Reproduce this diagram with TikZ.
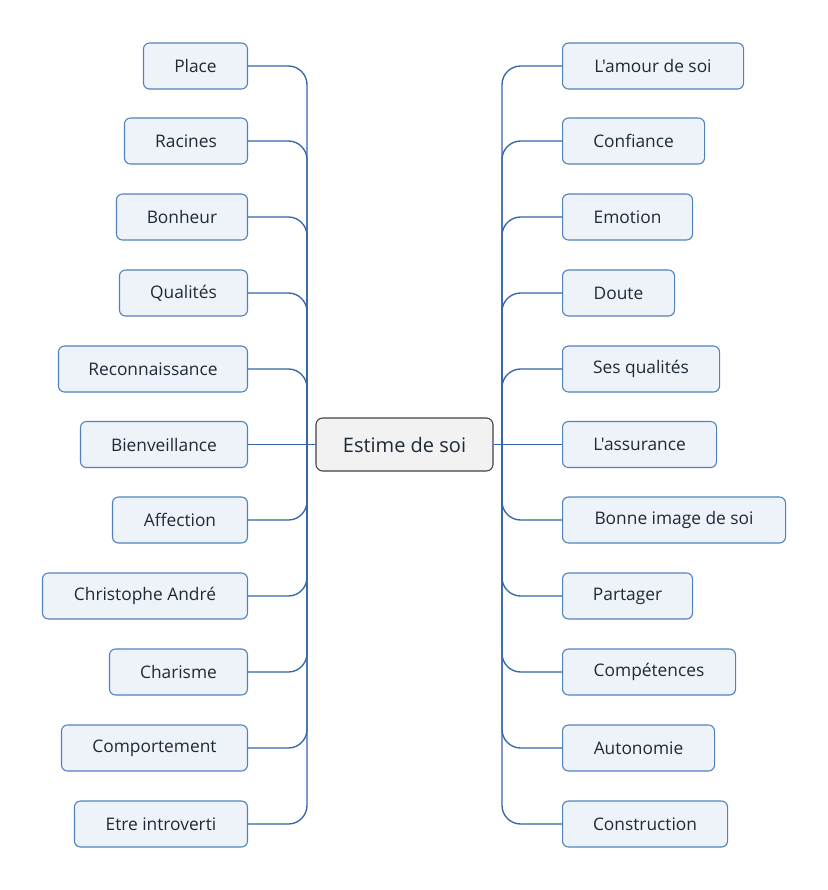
\documentclass[tikz,border=0pt]{standalone}
\usepackage{fontspec}
\setmainfont{Open Sans}[Ligatures=TeXOff]
\definecolor{boxfill}{HTML}{EEF3FA}
\definecolor{boxline}{HTML}{4F81BD}
\definecolor{connline}{HTML}{3466A8}
\definecolor{txt}{HTML}{1F2A36}
\definecolor{cfill}{HTML}{F2F2F2}
\definecolor{cline}{HTML}{404040}
\begin{document}
\begin{tikzpicture}[x=0.75pt,y=-0.75pt,
  box/.style={draw=boxline,fill=boxfill,line width=0.8pt,rounded corners=4.5pt,
    minimum height=34.5pt,inner sep=0pt,text=txt,font=\fontsize{13}{15}\selectfont},
  wd/.style={minimum width=#1*0.75pt},
  lbox/.style={box,anchor=east},
  rbox/.style={box,anchor=west},
  conn/.style={draw=connline,line width=1pt,rounded corners=14pt},
  center/.style={draw=cline,fill=cfill,line width=0.8pt,rounded corners=5pt,
    minimum width=177*0.75pt,minimum height=53*0.75pt,text=txt,
    font=\fontsize{15}{18}\selectfont}]
\useasboundingbox (0,0) rectangle (828,890);
\node[center] (c) at (404.5,444.5) {Estime de soi};
% left
\node[lbox,wd=104] (l1) at (248,66) {Place};
\node[lbox,wd=123] (l2) at (248,141) {Racines};
\node[lbox,wd=131] (l3) at (248,217) {Bonheur};
\node[lbox,wd=128] (l4) at (248,293) {Qualités};
\node[lbox,wd=189] (l5) at (248,369) {Reconnaissance};
\node[lbox,wd=167] (l6) at (248,444.5) {Bienveillance};
\node[lbox,wd=135] (l7) at (248,520) {Affection};
\node[lbox,wd=205] (l8) at (248,596) {Christophe André};
\node[lbox,wd=138] (l9) at (248,672) {Charisme};
\node[lbox,wd=186] (l10) at (248,748) {Comportement};
\node[lbox,wd=173] (l11) at (248,824) {Etre introverti};
% right
\node[rbox,wd=181] (r1) at (562,66) {L'amour de soi};
\node[rbox,wd=142] (r2) at (562,141) {Confiance};
\node[rbox,wd=130] (r3) at (562,217) {Emotion};
\node[rbox,wd=112] (r4) at (562,293) {Doute};
\node[rbox,wd=157] (r5) at (562,369) {Ses qualités};
\node[rbox,wd=154] (r6) at (562,444.5) {L'assurance};
\node[rbox,wd=223] (r7) at (562,520) {Bonne image de soi};
\node[rbox,wd=130] (r8) at (562,596) {Partager};
\node[rbox,wd=173] (r9) at (562,672) {Compétences};
\node[rbox,wd=152] (r10) at (562,748) {Autonomie};
\node[rbox,wd=165] (r11) at (562,824) {Construction};
% junctions
\coordinate (lj) at (307,444.5);
\coordinate (rj) at (502,444.5);
\draw[conn] (c.west) -- (l6.east);
\draw[conn] (c.east) -- (r6.west);
\foreach \n in {l1,l2,l3,l4,l5,l7,l8,l9,l10,l11}
  \draw[conn] (lj) |- (\n.east);
\foreach \n in {r1,r2,r3,r4,r5,r7,r8,r9,r10,r11}
  \draw[conn] (rj) |- (\n.west);
\end{tikzpicture}
\end{document}
